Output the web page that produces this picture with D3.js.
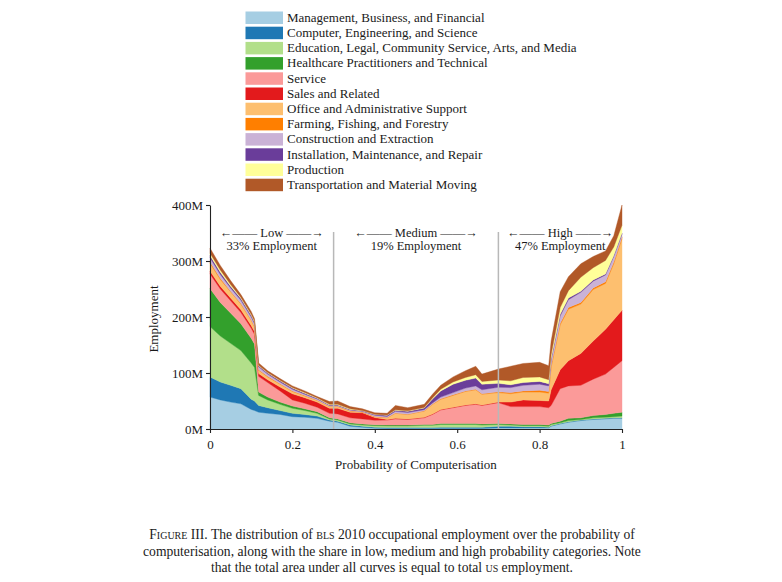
<!DOCTYPE html>
<html><head><meta charset="utf-8">
<script src="https://cdn.jsdelivr.net/npm/d3@7"></script>
<style>
body{margin:0;background:#fff}
svg text{font-family:"Liberation Serif","Times New Roman",serif;fill:#1a1a1a}
</style>
</head><body>
<svg id="chart" width="782" height="582"></svg>
<script>
const categories = [
  "Management, Business, and Financial",
  "Computer, Engineering, and Science",
  "Education, Legal, Community Service, Arts, and Media",
  "Healthcare Practitioners and Technical",
  "Service",
  "Sales and Related",
  "Office and Administrative Support",
  "Farming, Fishing, and Forestry",
  "Construction and Extraction",
  "Installation, Maintenance, and Repair",
  "Production",
  "Transportation and Material Moving"
];
const colors = ["#a6cee3","#1f78b4","#b2df8a","#33a02c","#fb9a99","#e31a1c","#fdbf6f","#ff7f00","#cab2d6","#6a3d9a","#ffff99","#b15928"];

const probs = [0,0.025,0.05,0.075,0.1,0.108,0.118,0.14,0.17,0.2,0.23,0.26,0.29,0.31,0.34,0.37,0.4,0.43,0.45,0.48,0.52,0.54,0.56,0.59,0.62,0.645,0.66,0.7,0.73,0.76,0.8,0.822,0.828,0.85,0.87,0.9,0.93,0.96,0.98,1.0];

// employment (millions) per category at each probability
const management   = [57,52,48,45,35,33,30,28,26,22,21,19,14,12,5,3,1.5,1,1,1,1,1,1,1,1,1,1,2,2,2,2,2,5,9,12,15,17,18,19,19];
const computer     = [36,32,30,27,18,17,12,10,7,6,5,4,2,2,2,2,1.5,1.5,1.5,1.5,1.5,1.5,2,2,2,2,2,3,3,2,2,1,1,1,1,1,1,1,1,1];
const education    = [90,82,75,68,65,60,18,14,11,9,7,5,2,2,2,2,3,3,3,3,4,4,5,5,5,5,4,3,2,2,2,2,2,1,2,1,2,2,2,3];
const healthcare   = [68,60,54,48,44,42,6,5,4,4,3,3,2,2,2,2,1.5,1.5,1.5,1.5,1.5,1.5,2,2,2,2,2,2,2,2,2,2,2,3,4,3,4,5,6,7];
const service      = [26,24,22,20,18,17,28,26,20,11,10,8,8,9,9,9,8,9,11,10,12,18,24,28,32,34,33,37,31,32,32,31,32,58,58,58,65,72,82,92];
const sales        = [5,5,5,5,5,5,5,5,7,11,10,9,9,10,10,11,5,1,1,1,1,1,1,1,1,1,1,1,8,12,11,12,28,34,45,57,68,80,85,90];
const office       = [14,12,11,10,9,8,6,5,5,4,3,3,3,3,2,1,1.5,3,9,8,11,17,18,21,24,25,19,17,15,14,15,14,40,80,92,88,92,82,100,128];
const farming      = [2,2,1,1,1,1,1,1,1,1,1,0.5,0.5,0.5,0.5,0.5,0.5,0.5,0.5,0.5,0.5,0.5,1,1,1,1,1,1.5,2,2,3,3,3,3,3,3,3,3,3,3];
const construction = [8,7,6,6,5,5,5,4,3,3,2,2,1.5,1.5,1.5,1,2,2,3,3,2,2,3,4,5,6,7,8,9,10,11,10,10,13,14,18,12,12,10,5];
const installation = [4,4,3,3,3,3,2,2,2,2,2,1.5,1,1,1,1,1.5,2,2,2,3,7,11,15,14,14,10,7,5,5,5,4,3,3,3,2,2,2,2,2];
const production   = [4,4,3,2,2,2,1,1,1,1,1,1,1,1,1,0.5,0.5,0.5,1,1,1,2,3,4,5,6,5,6,7,9,8,7,7,12,13,25,22,24,15,14];
const transport    = [9,8,7,5,5,4,4,3,3,3,3,2,5,6,4,3,2.5,3,7.5,5.5,5.5,6.5,7,9,12,15,13,19.5,26,25,26,25,24,28,25,24,20,17,20,36];

const seriesValues = [management,computer,education,healthcare,service,sales,office,farming,construction,installation,production,transport];
const yTicks = [0,100,200,300,400];
const xTicks = [0,0.2,0.4,0.6,0.8,1];
const bands = [
  {label:"Low", share:"33% Employment", from:0, to:0.3},
  {label:"Medium", share:"19% Employment", from:0.3, to:0.7},
  {label:"High", share:"47% Employment", from:0.7, to:1}
];
const dividers = [0.3, 0.7];

const svg = d3.select("#chart");
const x = d3.scaleLinear().domain([0,1]).range([210,622]);
const y = d3.scaleLinear().domain([0,400]).range([429,205]);

const keys = categories.map((c,i)=>"k"+i);
const rows = probs.map((p,j)=>{
  const r = {p};
  seriesValues.forEach((s,i)=>{ r["k"+i] = s[j]; });
  return r;
});
const stacked = d3.stack().keys(keys)(rows);
const area = d3.area()
  .x(d=>x(d.data.p))
  .y0(d=>y(d[0]))
  .y1(d=>y(d[1]))
  .curve(d3.curveLinear);

svg.append("g").selectAll("path").data(stacked).join("path")
  .attr("d", area)
  .attr("fill", (d,i)=>colors[i])
  .attr("stroke", (d,i)=>colors[i])
  .attr("stroke-width", 0.4);

// dividers
svg.append("g").selectAll("line").data(dividers).join("line")
  .attr("x1", d=>x(d)).attr("x2", d=>x(d))
  .attr("y1", 232).attr("y2", y(0))
  .attr("stroke", "#b8b8b8").attr("stroke-width", 1.5);

// axes
const yAxis = d3.axisLeft(y).tickValues(yTicks).tickFormat(d=>d+"M").tickSize(4).tickSizeOuter(0).tickPadding(3);
const gy = svg.append("g").attr("transform","translate(210,0)").call(yAxis);
const xAxis = d3.axisBottom(x).tickValues(xTicks).tickFormat(d=>(d===0||d===1)?String(d):d.toFixed(1)).tickSize(4).tickSizeOuter(0).tickPadding(7);
const gx = svg.append("g").attr("transform","translate(0,429)").call(xAxis);
[gx,gy].forEach(g=>{
  g.selectAll("text").attr("font-size",13).style("font-family",'"Liberation Serif",serif').attr("fill","#1a1a1a");
  g.selectAll("path,line").attr("stroke","#222").attr("stroke-width",1.1);
});

svg.append("text").attr("x",416).attr("y",469).attr("text-anchor","middle").attr("font-size",13)
  .text("Probability of Computerisation");
svg.append("text").attr("transform","translate(158,319) rotate(-90)").attr("text-anchor","middle").attr("font-size",13)
  .text("Employment");

// band annotations
const ann = svg.append("g");
bands.forEach(b=>{
  const cx = x((b.from+b.to)/2);
  ann.append("text").attr("x",cx).attr("y",237).attr("text-anchor","middle").attr("font-size",12.5)
    .text("\u2190\u2014\u2014 " + b.label + " \u2014\u2014\u2192");
  ann.append("text").attr("x",cx).attr("y",250).attr("text-anchor","middle").attr("font-size",12.5)
    .text(b.share);
});

// legend
const lg = svg.append("g");
categories.forEach((c,i)=>{
  const yy = 11.5 + i*15.2;
  lg.append("rect").attr("x",245.5).attr("y",yy).attr("width",37.5).attr("height",12.5).attr("fill",colors[i]);
  lg.append("text").attr("x",287).attr("y",yy+10.2).attr("font-size",13).text(c);
});

// caption
const cap = svg.append("g").attr("font-size",13.6);
const l1 = cap.append("text").attr("x",392).attr("y",539).attr("text-anchor","middle");
l1.append("tspan").attr("font-variant","small-caps").text("Figure III.");
l1.append("tspan").text(" The distribution of ");
l1.append("tspan").attr("font-variant","small-caps").text("bls");
l1.append("tspan").text(" 2010 occupational employment over the probability of");
cap.append("text").attr("x",392).attr("y",555.5).attr("text-anchor","middle")
  .text("computerisation, along with the share in low, medium and high probability categories. Note");
const l3 = cap.append("text").attr("x",392).attr("y",572).attr("text-anchor","middle");
l3.append("tspan").text("that the total area under all curves is equal to total ");
l3.append("tspan").attr("font-variant","small-caps").text("us");
l3.append("tspan").text(" employment.");
</script>
</body></html>
